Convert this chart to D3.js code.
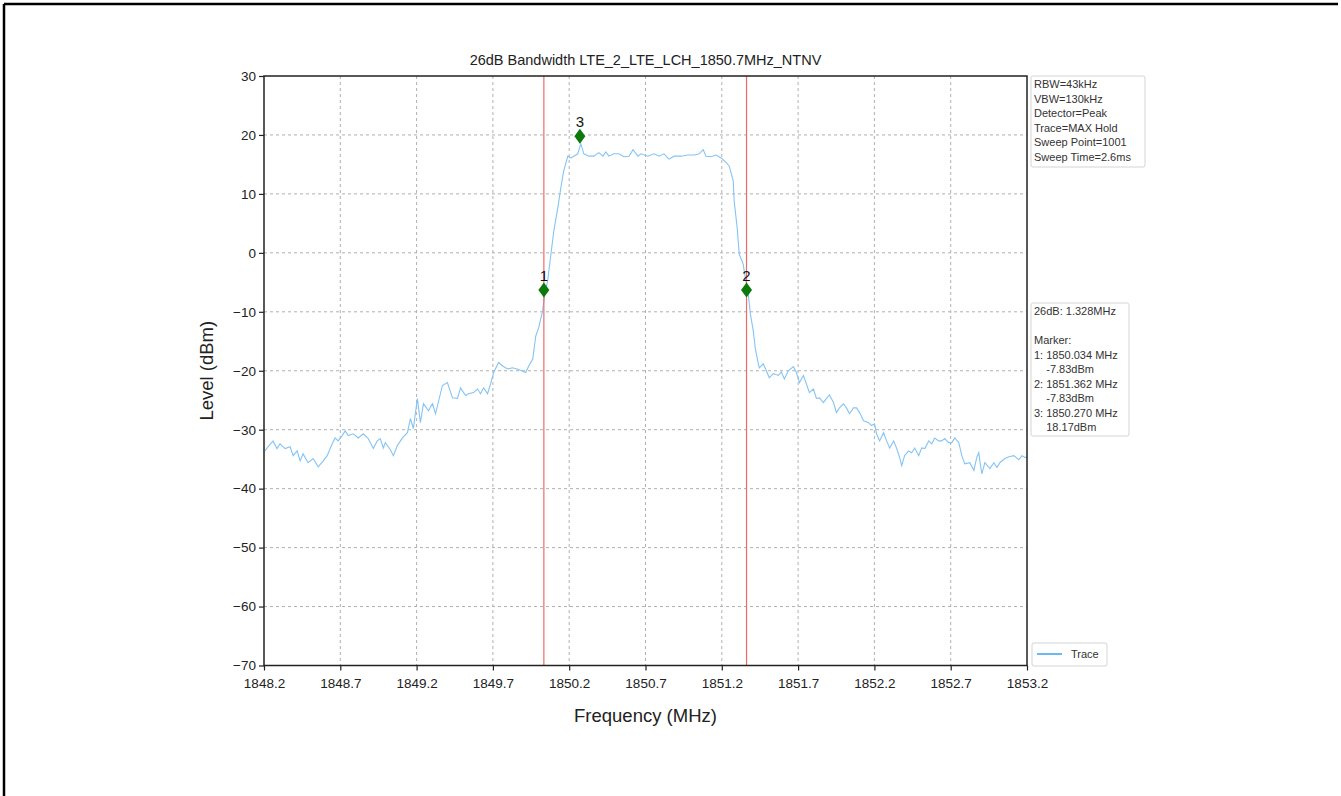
<!DOCTYPE html>
<html><head><meta charset="utf-8">
<script src="https://cdn.jsdelivr.net/npm/d3@7"></script>
<style>body{margin:0;background:#fff;}svg{display:block;font-family:"Liberation Sans",Arial,sans-serif;}</style>
</head><body>
<svg id="c" width="1341" height="796"></svg>
<script>
const title = "26dB Bandwidth LTE_2_LTE_LCH_1850.7MHz_NTNV";
const xTicks = [1848.2,1848.7,1849.2,1849.7,1850.2,1850.7,1851.2,1851.7,1852.2,1852.7,1853.2];
const yTicks = [30,20,10,0,-10,-20,-30,-40,-50,-60,-70];
const traceFreq = [1848.207,1848.226,1848.259,1848.285,1848.305,1848.338,1848.371,1848.391,1848.417,1848.437,1848.456,1848.489,1848.522,1848.555,1848.588,1848.614,1848.647,1848.666,1848.686,1848.712,1848.732,1848.752,1848.785,1848.818,1848.850,1848.883,1848.916,1848.942,1848.962,1848.982,1848.995,1849.028,1849.048,1849.074,1849.107,1849.140,1849.159,1849.179,1849.205,1849.225,1849.245,1849.278,1849.304,1849.324,1849.369,1849.402,1849.435,1849.468,1849.488,1849.521,1849.540,1849.573,1849.599,1849.619,1849.639,1849.665,1849.685,1849.705,1849.737,1849.764,1849.797,1849.829,1849.869,1849.915,1849.935,1849.961,1849.981,1850.000,1850.026,1850.040,1850.059,1850.079,1850.099,1850.125,1850.145,1850.164,1850.191,1850.211,1850.230,1850.256,1850.276,1850.296,1850.329,1850.362,1850.394,1850.421,1850.440,1850.460,1850.493,1850.526,1850.559,1850.592,1850.618,1850.651,1850.670,1850.716,1850.756,1850.789,1850.821,1850.854,1850.887,1850.933,1850.979,1851.019,1851.051,1851.078,1851.097,1851.130,1851.163,1851.196,1851.229,1851.249,1851.275,1851.281,1851.301,1851.314,1851.340,1851.354,1851.373,1851.387,1851.406,1851.419,1851.439,1851.446,1851.472,1851.492,1851.511,1851.538,1851.571,1851.590,1851.610,1851.636,1851.669,1851.689,1851.709,1851.735,1851.754,1851.774,1851.800,1851.820,1851.840,1851.866,1851.886,1851.905,1851.932,1851.951,1851.971,1851.997,1852.017,1852.037,1852.063,1852.083,1852.103,1852.129,1852.162,1852.181,1852.201,1852.214,1852.234,1852.260,1852.280,1852.300,1852.326,1852.345,1852.365,1852.379,1852.398,1852.425,1852.444,1852.464,1852.490,1852.510,1852.530,1852.556,1852.576,1852.595,1852.622,1852.641,1852.661,1852.687,1852.707,1852.727,1852.753,1852.773,1852.792,1852.825,1852.852,1852.871,1852.884,1852.891,1852.904,1852.924,1852.957,1852.983,1853.003,1853.022,1853.055,1853.082,1853.114,1853.147,1853.167,1853.187,1853.200];
const traceLevel = [-33.6,-32.9,-31.9,-33.2,-32.4,-33.2,-32.9,-34.4,-33.6,-35.3,-34.1,-35.6,-34.9,-36.3,-35.3,-34.4,-32.4,-31.4,-31.9,-31.0,-30.2,-31.0,-30.7,-31.4,-30.7,-31.5,-33.2,-31.9,-31.5,-33.1,-32.2,-33.4,-34.4,-32.7,-31.4,-30.5,-28.1,-29.8,-24.7,-28.8,-25.6,-26.8,-25.6,-27.3,-22.5,-22.0,-24.6,-24.7,-22.9,-24.2,-23.9,-23.7,-23.1,-23.9,-22.9,-23.9,-22.2,-20.3,-18.6,-19.2,-19.7,-19.5,-19.8,-20.3,-19.2,-18.0,-14.1,-12.7,-9.8,-6.9,-4.7,-0.5,3.7,7.6,11.0,13.9,16.4,16.1,16.4,16.8,18.5,16.8,16.4,16.4,17.0,16.4,17.1,16.4,16.8,16.8,16.3,16.4,17.5,16.4,16.8,16.4,16.8,16.4,16.8,15.9,16.4,16.4,16.6,16.6,16.8,17.5,16.4,16.3,16.6,16.1,15.3,14.7,12.2,8.8,4.2,-0.2,-1.9,-4.2,-6.9,-10.3,-13.2,-16.1,-18.8,-19.5,-18.8,-20.0,-21.2,-20.5,-20.8,-20.2,-21.4,-20.0,-19.3,-20.3,-22.0,-20.8,-22.2,-23.7,-23.1,-24.7,-24.6,-25.4,-24.7,-24.1,-25.4,-27.1,-26.3,-25.6,-26.3,-27.3,-26.3,-26.3,-27.1,-28.5,-28.8,-29.3,-29.0,-30.7,-31.9,-30.5,-31.9,-33.1,-31.9,-33.1,-34.7,-36.1,-34.4,-33.6,-33.9,-33.1,-34.4,-33.1,-33.2,-31.9,-32.4,-31.4,-31.9,-31.9,-31.5,-32.2,-32.2,-31.4,-32.2,-34.4,-35.8,-35.6,-36.9,-34.7,-33.9,-35.3,-37.5,-35.6,-36.6,-35.6,-36.4,-35.6,-34.9,-34.6,-34.4,-35.1,-34.4,-34.7,-34.7];
const markerLabels = ["1","2","3"];
const markerFreq = [1850.034,1851.362,1850.270];
const markerPlotLevel = [-6.3,-6.3,19.8];
const boundaryFreq = [1850.034,1851.362];
const settingsText = ["RBW=43kHz","VBW=130kHz","Detector=Peak","Trace=MAX Hold","Sweep Point=1001","Sweep Time=2.6ms"];
const resultText = ["26dB: 1.328MHz","","Marker:","1: 1850.034 MHz","    -7.83dBm","2: 1851.362 MHz","    -7.83dBm","3: 1850.270 MHz","    18.17dBm"];
const legendLabel = "Trace";

const svg = d3.select("#c");
// page frame
svg.append("line").attr("x1",4).attr("x2",1338).attr("y1",4).attr("y2",4).attr("stroke","#000").attr("stroke-width",2.5);
svg.append("line").attr("x1",4).attr("x2",4).attr("y1",4).attr("y2",796).attr("stroke","#000").attr("stroke-width",2.5);

const L=264,R=1027,T=76,B=665.5;
const x = d3.scaleLinear().domain([1848.2,1853.2]).range([L,R]);
const y = d3.scaleLinear().domain([-70,30]).range([B,T]);

const g = svg.append("g");
// grid
g.append("g").selectAll("line").data(xTicks.slice(1,-1)).join("line")
 .attr("x1",d=>x(d)).attr("x2",d=>x(d)).attr("y1",T).attr("y2",B)
 .attr("stroke","#b0b0b0").attr("stroke-dasharray","3,3").attr("stroke-width",1);
g.append("g").selectAll("line").data(yTicks.slice(1,-1)).join("line")
 .attr("x1",L).attr("x2",R).attr("y1",d=>y(d)).attr("y2",d=>y(d))
 .attr("stroke","#b0b0b0").attr("stroke-dasharray","3,3").attr("stroke-width",1);

// clip
svg.append("clipPath").attr("id","pc").append("rect").attr("x",L).attr("y",T).attr("width",R-L).attr("height",B-T);

// trace
const pts = traceFreq.map((f,i)=>[f,traceLevel[i]]);
g.append("path").datum(pts).attr("clip-path","url(#pc)")
 .attr("d",d3.line().x(d=>x(d[0])).y(d=>y(d[1])))
 .attr("fill","none").attr("stroke","#84c4f5").attr("stroke-width",1.1);

// boundary lines
g.append("g").selectAll("line").data(boundaryFreq).join("line")
 .attr("x1",d=>x(d)).attr("x2",d=>x(d)).attr("y1",T).attr("y2",B)
 .attr("stroke","#f06a6a").attr("stroke-width",1.2);

// markers
const mk = g.append("g");
markerFreq.forEach((f,i)=>{
  const cx=x(f), cy=y(markerPlotLevel[i]);
  mk.append("path").attr("d",`M${cx},${cy-7.5}L${cx+5.5},${cy}L${cx},${cy+7.5}L${cx-5.5},${cy}Z`).attr("fill","#0b7a0b");
  mk.append("text").attr("x",cx).attr("y",cy-9).attr("text-anchor","middle").attr("font-size",15).attr("fill","#111").text(markerLabels[i]);
});

// axes
const xa = svg.append("g").attr("transform",`translate(0,${B})`)
 .call(d3.axisBottom(x).tickValues(xTicks).tickFormat(d3.format(".1f")).tickSize(5).tickSizeOuter(0));
const ya = svg.append("g").attr("transform",`translate(${L},0)`)
 .call(d3.axisLeft(y).tickValues(yTicks).tickFormat(d=>d<0?"\u2212"+Math.abs(d):d).tickSize(5).tickSizeOuter(0));
[xa,ya].forEach(a=>{
  a.selectAll("text").attr("font-size",13.5).attr("fill","#222").attr("font-family","Liberation Sans, Arial, sans-serif");
  a.selectAll(".tick line").attr("stroke","#222").attr("stroke-width",1.2);
  a.select(".domain").remove();
});
xa.selectAll("text").attr("dy","1.05em");
// spines
svg.append("rect").attr("x",L).attr("y",T).attr("width",R-L).attr("height",B-T)
 .attr("fill","none").attr("stroke","#222").attr("stroke-width",1.5);

// title and labels
svg.append("text").attr("x",(L+R)/2).attr("y",65).attr("text-anchor","middle").attr("font-size",14.5).attr("fill","#222").text(title);
svg.append("text").attr("x",(L+R)/2).attr("y",722).attr("text-anchor","middle").attr("font-size",18.5).attr("fill","#222").text("Frequency (MHz)");
svg.append("text").attr("transform",`translate(213,${(T+B)/2}) rotate(-90)`).attr("text-anchor","middle").attr("font-size",18.5).attr("fill","#222").text("Level (dBm)");

// info boxes
function box(x0,y0,w,h,lines,lh){
  svg.append("rect").attr("x",x0).attr("y",y0).attr("width",w).attr("height",h).attr("rx",2)
   .attr("fill","#fff").attr("stroke","#d4d4d4").attr("stroke-width",1);
  const t=svg.append("text").attr("font-size",11).attr("fill","#333");
  lines.forEach((s,i)=>t.append("tspan").attr("x",x0+3).attr("y",y0+12+i*lh).attr("xml:space","preserve").text(s.replace(/^ +/,m=>"\u00a0".repeat(m.length*1))));
}
box(1031,76,114,91,settingsText,14.6);
box(1031,303,98,133,resultText,14.5);

// legend
svg.append("rect").attr("x",1032).attr("y",643).attr("width",75).attr("height",23).attr("rx",2)
 .attr("fill","#fff").attr("stroke","#d4d4d4");
svg.append("line").attr("x1",1037).attr("x2",1062).attr("y1",654).attr("y2",654).attr("stroke","#3aa0f5").attr("stroke-width",1.5);
svg.append("text").attr("x",1071).attr("y",658).attr("font-size",11).attr("fill","#333").text(legendLabel);
</script>
</body></html>
